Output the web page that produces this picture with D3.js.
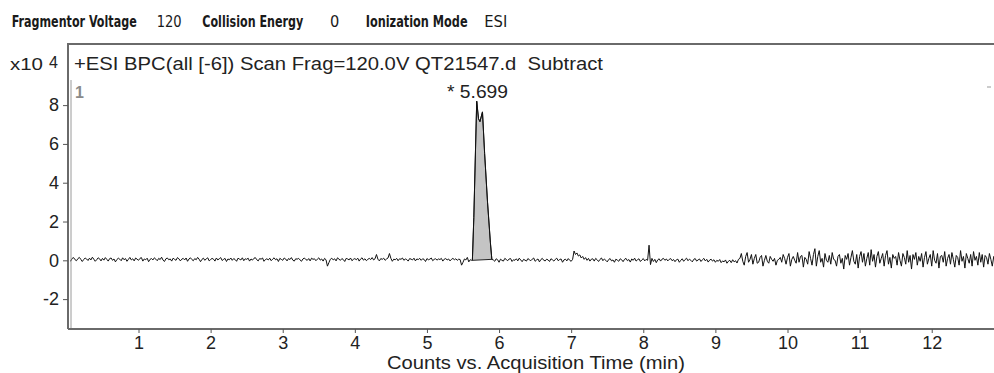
<!DOCTYPE html>
<html><head><meta charset="utf-8">
<script src="https://cdn.jsdelivr.net/npm/d3@7/dist/d3.min.js"></script>
<style>body{margin:0;background:#fff}svg{display:block}</style>
</head><body><svg id="c" width="994" height="373"></svg>
<script>
// ---- data (intensity in units of 10^4 counts, time in minutes) ----
const headerLabels = ["Fragmentor Voltage","Collision Energy","Ionization Mode"];
const headerValues = ["120","0","ESI"];
const chartTitle = "+ESI BPC(all [-6]) Scan Frag=120.0V QT21547.d  Subtract";
const peakLabel = "* 5.699";
const traceLabel = "1";
const xTicks = [1,2,3,4,5,6,7,8,9,10,11,12];
const yTicks = [-2,0,2,4,6,8];
const xTitle = "Counts vs. Acquisition Time (min)";
const yExpBase = "x10", yExpPow = "4";

// baseline before peak: t = 0.02 + 0.02*i
const startA = 0.02, stepA = 0.02;
const valuesA = [
0.08,0.02,-0.04,0.1,0.14,0.03,-0.02,0.09,0.15,0.05,-0.06,0.04,0.12,0.07,-0.01,0.11,0.02,0.16,0.06,-0.05,
0.03,0.13,0.08,-0.03,0.1,0.01,0.14,0.05,-0.04,0.09,0.12,0.0,0.07,-0.08,0.04,0.11,0.06,-0.02,0.13,0.03,
0.09,-0.05,0.05,0.15,0.02,0.08,-0.03,0.12,0.06,0.0,0.1,0.14,-0.04,0.07,0.03,0.11,-0.07,0.05,0.09,0.02,
0.13,0.06,-0.02,0.1,0.04,0.16,0.01,-0.06,0.08,0.12,0.03,0.07,-0.04,0.11,0.05,0.0,0.14,0.08,-0.03,0.06,
0.1,0.02,0.12,-0.05,0.07,0.13,0.04,-0.02,0.09,0.03,0.15,0.06,-0.07,0.05,0.11,0.0,0.08,0.13,-0.03,0.04,
0.1,0.06,-0.04,0.12,0.02,0.08,0.14,-0.01,0.05,0.1,-0.06,0.07,0.03,0.12,0.0,0.09,0.04,-0.05,0.11,0.06,
0.02,0.13,-0.02,0.08,0.05,0.11,-0.04,0.07,0.01,0.1,0.14,0.03,-0.03,0.09,0.06,0.12,-0.05,0.04,0.08,0.02,
0.11,-0.02,0.06,0.13,0.03,0.08,-0.06,0.1,0.05,0.0,0.12,0.07,-0.03,0.09,0.04,0.14,0.01,-0.04,0.08,0.06,
0.1,0.02,-0.05,0.07,0.12,0.04,0.0,0.09,-0.03,0.11,0.05,0.08,-0.02,0.06,0.13,0.01,0.07,-0.04,0.1,0.03,
-0.3,-0.12,0.05,0.11,0.02,0.08,-0.03,0.13,0.06,0.0,0.09,0.04,-0.06,0.1,0.07,0.02,0.12,-0.02,0.05,0.09,
0.03,0.11,-0.04,0.07,0.13,0.01,0.08,-0.02,0.05,0.1,0.04,0.14,0.02,0.08,0.3,0.06,-0.03,0.09,0.05,0.11,
0.0,0.07,0.12,0.35,0.1,-0.05,0.06,0.03,0.1,-0.02,0.08,0.05,0.12,0.0,0.07,0.04,-0.04,0.09,0.06,0.02,
0.11,-0.03,0.07,0.04,0.1,0.0,0.08,0.05,-0.06,0.09,0.03,0.06,0.12,-0.02,0.05,0.08,0.01,0.07,0.04,0.1,
-0.04,0.06,0.09,0.02,0.07,-0.03,0.05,0.1,0.03,0.08,0.0,0.06,0.04,-0.25,-0.1,0.07,0.02,0.15,-0.08,0.03,
0.0];

// peak region
const peakTimes  = [5.63, 5.65, 5.69, 5.715, 5.735, 5.77, 5.80, 5.84, 5.88, 5.90];
const peakValues = [0.0, 2.2, 8.2, 7.3, 7.15, 7.65, 5.5, 3.0, 0.9, 0.05];

// baseline after peak: t = 5.92 + 0.02*i
const startB = 5.92, stepB = 0.02;
const valuesB = [
0.02,-0.05,0.08,0.03,-0.1,0.06,0.0,-0.04,0.1,0.04,-0.02,0.07,0.09,-0.06,0.03,0.0,0.08,-0.03,0.11,0.02,
-0.07,0.05,0.01,-0.04,0.09,0.03,-0.02,0.06,0.12,-0.05,0.02,0.07,-0.08,0.04,0.1,0.0,-0.03,0.06,0.02,-0.06,
0.08,0.03,-0.04,0.05,0.11,-0.02,0.04,0.07,-0.1,0.02,0.06,-0.03,0.09,0.0,-0.05,0.05,
0.48,0.3,0.38,0.22,0.28,0.12,0.2,0.05,0.14,0.0,0.1,-0.04,0.06,0.08,
-0.04,0.1,0.03,-0.06,0.05,0.12,-0.02,0.07,0.0,-0.08,0.04,0.09,-0.03,0.02,-0.1,0.06,0.01,-0.05,0.08,0.03,
-0.07,0.05,0.1,-0.02,0.04,-0.09,0.07,0.0,0.11,-0.04,0.03,0.08,-0.06,0.02,0.09,-0.03,0.05,0.0,
0.78,-0.22,0.1,
-0.06,0.05,-0.12,0.02,0.08,-0.04,0.06,0.1,0.0,0.07,-0.03,0.05,0.09,-0.02,0.04,-0.07,0.03,0.06,-0.1,0.0,
0.08,-0.05,0.04,0.11,-0.02,0.06,0.0,-0.08,0.05,0.09,-0.04,0.02,0.07,-0.06,0.03,0.1,-0.03,0.05,-0.09,0.01,
0.06,-0.04,0.03,-0.1,0.0,-0.05,0.04,-0.12,-0.03,-0.08,0.02,-0.15,-0.05,0.0,-0.12,0.03,-0.08,-0.02,-0.14,0.05,0.1,
0.35,-0.05,-0.25,0.2,0.4,-0.1,0.05,0.3,-0.2,0.1,0.3,-0.15,-0.1,0.15,0.25,-0.3,0.0,0.25,-0.05,-0.15,
0.2,0.05,-0.05,0.1,-0.25,0.0,0.05,0.15,-0.1,0.3,0.1,-0.2,0.15,0.35,-0.3,0.05,0.2,0.0,-0.15,0.4,
-0.1,0.2,0.25,-0.35,0.15,0.05,-0.2,0.45,0.1,-0.25,0.3,0.6,-0.3,0.2,0.5,-0.1,0.1,-0.35,0.35,0.0,
-0.1,0.25,-0.2,0.4,0.05,0.0,-0.3,0.2,0.3,-0.15,0.1,-0.45,0.25,0.05,0.35,-0.25,0.15,0.5,-0.05,-0.2,
0.3,-0.4,0.2,0.45,-0.1,0.35,-0.3,0.1,0.4,-0.25,0.55,-0.05,0.3,-0.35,0.2,0.45,-0.15,0.1,0.35,-0.3,
0.25,0.5,-0.2,0.15,-0.4,0.3,0.1,0.2,-0.25,0.4,0.0,-0.3,0.35,0.15,-0.2,0.5,-0.1,0.25,-0.45,0.3,
0.05,0.4,-0.25,0.2,-0.05,0.35,-0.35,0.15,0.45,-0.2,0.1,0.3,-0.3,0.5,0.0,-0.15,0.35,-0.4,0.2,0.25,
-0.1,0.45,-0.3,0.1,0.3,-0.2,0.4,0.05,-0.35,0.25,0.15,-0.25,0.5,-0.05,0.2,-0.4,0.35,0.1,-0.15,0.3,
-0.3,0.45,0.0,0.2,-0.25,0.4,-0.1,0.3,-0.35,0.25,0.15,-0.2,0.35,0.05,-0.3,0.2,0.1];

(function(){
// ---- build series ----
const series = [];
valuesA.forEach((v,i)=>series.push([startA+stepA*i, v]));
peakTimes.forEach((t,i)=>series.push([t, peakValues[i]]));
valuesB.forEach((v,i)=>series.push([startB+stepB*i, v]));
const peakPts = peakTimes.map((t,i)=>[t, peakValues[i]]);

// ---- layout ----
const svg = d3.select("#c");
const pL = 68, pT = 44, pB = 329, pR = 994;
const x = d3.scaleLinear().domain([0, 12.9]).range([66.4, 66.4 + 72.11*12.9]);
const y = d3.scaleLinear().domain([-3.54, 11.15]).range([pB, pT]);
const F = "'Liberation Sans', Arial, sans-serif";
const HF = "'DejaVu Sans Condensed',sans-serif";

// header: text fitted horizontally into measured spans via scale transform
function fitText(s, x0, x1, yb, bold){
  const t = svg.append("text").attr("x",0).attr("y",0).text(s)
    .attr("font-family",HF).attr("font-weight",bold?"bold":"normal")
    .attr("font-size",15).attr("fill","#1a1a1a");
  const w = t.node().getComputedTextLength();
  t.attr("transform",`translate(${x0},${yb}) scale(${(x1-x0)/w},1)`);
}
const hdrX = [[11.7,136.7],[202.3,303.3],[365.7,467.7]];
const valX = [[156.7,181.7],[330,339.3],[484.3,507.3]];
headerLabels.forEach((s,i)=>fitText(s,hdrX[i][0],hdrX[i][1],26.5,true));
headerValues.forEach((s,i)=>fitText(s,valX[i][0],valX[i][1],26.5,false));

// clip
svg.append("clipPath").attr("id","clip").append("rect")
  .attr("x",pL+2).attr("y",pT).attr("width",pR-pL).attr("height",pB-pT);

const g = svg.append("g").attr("clip-path","url(#clip)");

// peak fill
g.append("path")
  .attr("d", d3.line().x(d=>x(d[0])).y(d=>y(d[1]))(peakPts)+"Z")
  .attr("fill","#c4c4c4").attr("stroke","#222").attr("stroke-width",1);

// trace
g.append("path").datum(series)
  .attr("d", d3.line().x(d=>x(d[0])).y(d=>y(d[1])))
  .attr("fill","none").attr("stroke","#111").attr("stroke-width",1).attr("stroke-linejoin","round");

// frame
svg.append("line").attr("x1",pL).attr("x2",pR).attr("y1",pT).attr("y2",pT).attr("stroke","#6a6a6a").attr("stroke-width",2);
svg.append("line").attr("x1",pL).attr("x2",pL).attr("y1",pT-1).attr("y2",pB).attr("stroke","#6a6a6a").attr("stroke-width",2);
svg.append("line").attr("x1",pL+3).attr("x2",pL+3).attr("y1",80).attr("y2",pB).attr("stroke","#9a9a9a").attr("stroke-width",1);

// axes
const xa = svg.append("g").attr("transform",`translate(0,${pB})`)
  .call(d3.axisBottom(x).tickValues(xTicks).tickSize(4).tickPadding(3).tickFormat(d3.format("d")));
xa.select(".domain").attr("d",`M${pL},0H${pR}`).attr("stroke","#6a6a6a").attr("stroke-width",2);
xa.selectAll(".tick line").attr("stroke","#555");
xa.selectAll("text").attr("font-family",F).attr("font-size",18).attr("fill","#222");

const ya = svg.append("g").attr("transform",`translate(${pL},0)`)
  .call(d3.axisLeft(y).tickValues(yTicks).tickSize(5).tickPadding(4));
ya.select(".domain").remove();
ya.selectAll(".tick line").attr("stroke","#555");
ya.selectAll("text").attr("font-family",F).attr("font-size",18).attr("fill","#222")
  .text(d=>d<0?"-"+Math.abs(d):d);

// texts
svg.append("text").attr("x",10).attr("y",70).text(yExpBase)
  .attr("font-family",F).attr("font-size",17).attr("fill","#222")
  .attr("textLength",33).attr("lengthAdjust","spacingAndGlyphs");
svg.append("text").attr("x",49).attr("y",68).text(yExpPow)
  .attr("font-family",F).attr("font-size",16).attr("fill","#222");
svg.append("text").attr("x",74).attr("y",69.5).text(chartTitle)
  .attr("font-family",F).attr("font-size",17.5).attr("fill","#222").style("white-space","pre")
  .attr("textLength",529).attr("lengthAdjust","spacingAndGlyphs");
svg.append("text").attr("x",75).attr("y",98).text(traceLabel)
  .attr("font-family",F).attr("font-size",16).attr("font-weight","bold").attr("fill","#8a8a8a");
svg.append("line").attr("x1",987).attr("x2",991).attr("y1",87).attr("y2",87).attr("stroke","#999").attr("stroke-width",1);
svg.append("text").attr("x",447).attr("y",98).text(peakLabel)
  .attr("font-family",F).attr("font-size",18).attr("fill","#222")
  .attr("textLength",61).attr("lengthAdjust","spacingAndGlyphs");
svg.append("text").attr("x",387).attr("y",369).text(xTitle)
  .attr("font-family",F).attr("font-size",18).attr("fill","#222")
  .attr("textLength",298).attr("lengthAdjust","spacingAndGlyphs");
})();
</script></body></html>
